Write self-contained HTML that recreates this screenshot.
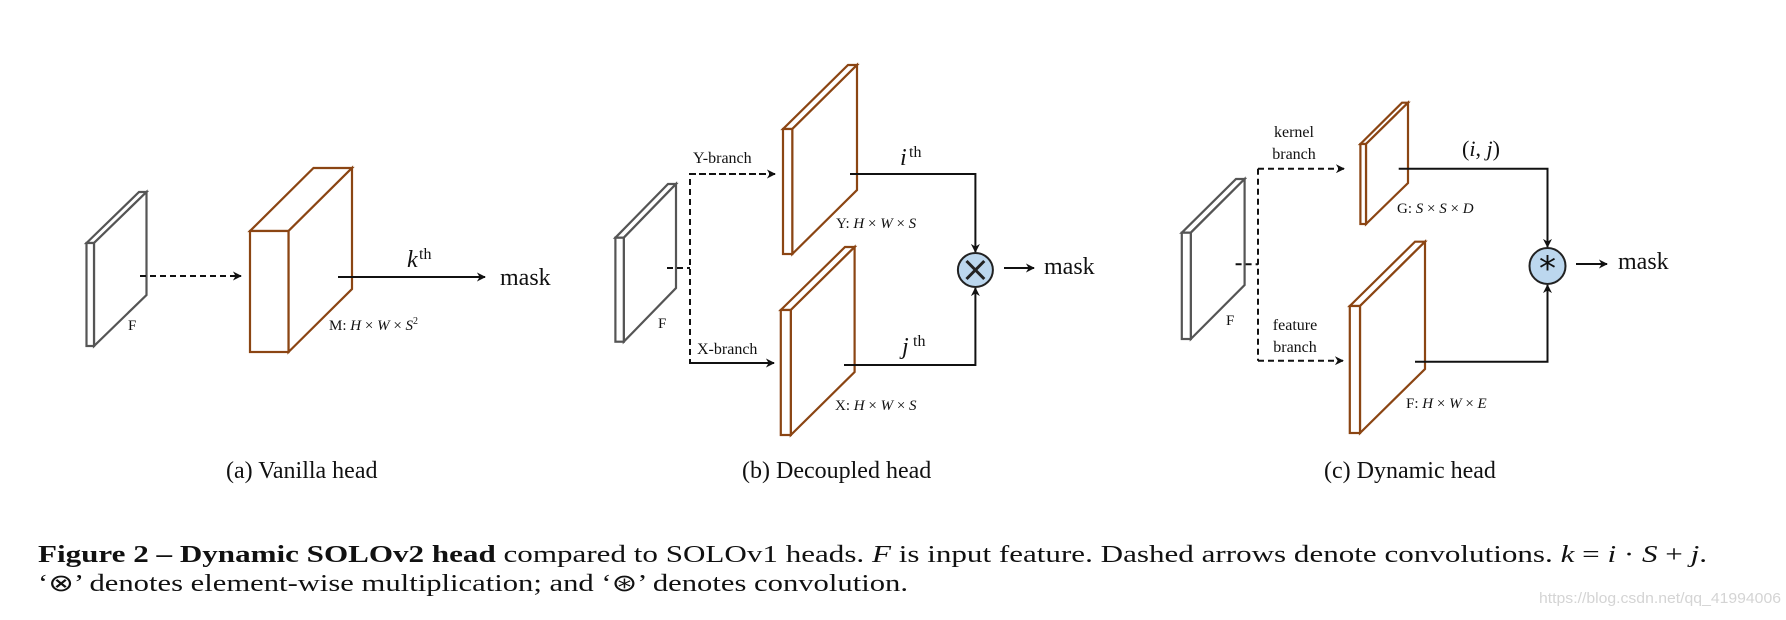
<!DOCTYPE html>
<html><head><meta charset="utf-8"><style>
html,body{margin:0;padding:0;background:#fff;}
svg{display:block;}
text{font-family:"Liberation Serif",serif;fill:#111;}
.it{font-style:italic;}
</style></head><body>
<svg width="1786" height="620" viewBox="0 0 1786 620" xmlns="http://www.w3.org/2000/svg">
<defs>
<marker id="ah" viewBox="0 0 10 10" refX="9" refY="5" markerWidth="9" markerHeight="9" markerUnits="userSpaceOnUse" orient="auto"><path d="M0,0 L10,5 L0,10 L3,5 z" fill="#111"/></marker>
</defs>
<g fill="#fff" stroke-linejoin="miter">
<!-- Panel a -->
<g stroke="#555" stroke-width="2.2">
<path d="M86.5,243 L139,192 L146.5,192 L94,243 z"/>
<path d="M94,243 L146.5,192 L146.5,295 L94,346 z"/>
<rect x="86.5" y="243" width="7.5" height="103"/>
</g>
<g stroke="#8B4513" stroke-width="2.2">
<path d="M250,231 L313.5,168 L352,168 L288.5,231 z"/>
<path d="M288.5,231 L352,168 L352,289 L288.5,352 z"/>
<rect x="250" y="231" width="38.5" height="121"/>
</g>
<!-- Panel b -->
<g stroke="#555" stroke-width="2.2">
<path d="M615.4,237.7 L668,184 L676,184 L623.8,237.7 z"/>
<path d="M623.8,237.7 L676,184 L676,288 L623.8,341.7 z"/>
<rect x="615.4" y="237.7" width="8.4" height="104"/>
</g>
<g stroke="#8B4513" stroke-width="2.2">
<path d="M783,129 L848,65 L857,65 L792.3,129 z"/>
<path d="M792.3,129 L857,65 L857,190 L792.3,254 z"/>
<rect x="783" y="129" width="9.3" height="125"/>
<path d="M780.8,310 L845,247 L854.6,247 L790.8,310 z"/>
<path d="M790.8,310 L854.6,247 L854.6,372 L790.8,435 z"/>
<rect x="780.8" y="310" width="10" height="125"/>
</g>
<!-- Panel c -->
<g stroke="#555" stroke-width="2.2">
<path d="M1181.8,232.7 L1236,179 L1244.6,179 L1190.8,232.7 z"/>
<path d="M1190.8,232.7 L1244.6,179 L1244.6,285 L1190.8,339 z"/>
<rect x="1181.8" y="232.7" width="9" height="106.3"/>
</g>
<g stroke="#8B4513" stroke-width="2.2">
<path d="M1360.4,144 L1402,102.7 L1408,102.7 L1366,144 z"/>
<path d="M1366,144 L1408,102.7 L1408,183 L1366,224 z"/>
<rect x="1360.4" y="144" width="5.6" height="80"/>
<path d="M1349.8,306 L1415,241.7 L1425,241.7 L1360,306 z"/>
<path d="M1360,306 L1425,241.7 L1425,369 L1360,433 z"/>
<rect x="1349.8" y="306" width="10.2" height="127"/>
</g>
</g>

<!-- connectors -->
<g fill="none" stroke="#111" stroke-width="2">
<line x1="140" y1="276" x2="241" y2="276" stroke-dasharray="6,4" marker-end="url(#ah)"/>
<line x1="338" y1="277" x2="485" y2="277" marker-end="url(#ah)"/>

<line x1="667" y1="268" x2="690" y2="268" stroke-dasharray="6,4"/>
<path d="M775,174 L690,174 L690,363 L774,363" stroke-dasharray="6,4"/>
<line x1="690" y1="174" x2="775" y2="174" stroke-dasharray="6,4" marker-end="url(#ah)"/>
<line x1="690" y1="363" x2="774" y2="363" stroke-dasharray="6,4" marker-end="url(#ah)"/>
<path d="M850,174 L975.4,174 L975.4,252" marker-end="url(#ah)"/>
<path d="M844,365 L975.4,365 L975.4,288" marker-end="url(#ah)"/>
<line x1="1004" y1="268" x2="1034" y2="268" marker-end="url(#ah)"/>

<line x1="1235.6" y1="264.3" x2="1258" y2="264.3" stroke-dasharray="6,4"/>
<path d="M1258,168.7 L1258,360.7" stroke-dasharray="6,4"/>
<line x1="1258" y1="168.7" x2="1344" y2="168.7" stroke-dasharray="6,4" marker-end="url(#ah)"/>
<line x1="1258" y1="360.7" x2="1343" y2="360.7" stroke-dasharray="6,4" marker-end="url(#ah)"/>
<path d="M1398.7,168.7 L1547.5,168.7 L1547.5,247" marker-end="url(#ah)"/>
<path d="M1415,361.7 L1547.5,361.7 L1547.5,285" marker-end="url(#ah)"/>
<line x1="1576" y1="264" x2="1607" y2="264" marker-end="url(#ah)"/>
</g>

<!-- operators -->
<ellipse cx="975.4" cy="270" rx="17.5" ry="17" fill="#bcd7ee" stroke="#222" stroke-width="2"/>
<path d="M966.5,261 L984.3,279 M984.3,261 L966.5,279" stroke="#222" stroke-width="3"/>
<ellipse cx="1547.5" cy="266" rx="18" ry="18" fill="#bcd7ee" stroke="#222" stroke-width="2"/>
<text x="1547.5" y="280" font-size="34" text-anchor="middle" font-family="DejaVu Sans" style="font-family:'DejaVu Sans',sans-serif">*</text>

<!-- labels panel a -->
<text x="128" y="330" font-size="15">F</text>
<text x="329" y="330" font-size="15">M: <tspan class="it">H</tspan> × <tspan class="it">W</tspan> × <tspan class="it">S</tspan><tspan font-size="10" dy="-6">2</tspan></text>
<text x="407" y="267" font-size="24" class="it">k</text><text x="419" y="259" font-size="16">th</text>
<text x="500" y="285" font-size="24">mask</text>
<text x="226" y="478" font-size="24">(a)  Vanilla head</text>

<!-- labels panel b -->
<text x="658" y="328" font-size="15">F</text>
<text x="693" y="163" font-size="16">Y-branch</text>
<text x="697" y="354" font-size="16">X-branch</text>
<text x="900" y="165" font-size="24" class="it">i</text><text x="909" y="157" font-size="16">th</text>
<text x="902" y="354" font-size="24" class="it">j</text><text x="913" y="346" font-size="16">th</text>
<text x="836" y="228" font-size="15">Y: <tspan class="it">H</tspan> × <tspan class="it">W</tspan> × <tspan class="it">S</tspan></text>
<text x="835" y="410" font-size="15">X: <tspan class="it">H</tspan> × <tspan class="it">W</tspan> × <tspan class="it">S</tspan></text>
<text x="1044" y="274" font-size="24">mask</text>
<text x="742" y="478" font-size="24">(b)  Decoupled head</text>

<!-- labels panel c -->
<text x="1226" y="325" font-size="15">F</text>
<text x="1294" y="137" font-size="16" text-anchor="middle">kernel</text>
<text x="1294" y="159" font-size="16" text-anchor="middle">branch</text>
<text x="1295" y="330" font-size="16" text-anchor="middle">feature</text>
<text x="1295" y="352" font-size="16" text-anchor="middle">branch</text>
<text x="1462" y="156" font-size="22">(<tspan class="it">i</tspan>, <tspan class="it">j</tspan>)</text>
<text x="1397" y="213" font-size="15">G: <tspan class="it">S</tspan> × <tspan class="it">S</tspan> × <tspan class="it">D</tspan></text>
<text x="1406" y="408" font-size="15">F: <tspan class="it">H</tspan> × <tspan class="it">W</tspan> × <tspan class="it">E</tspan></text>
<text x="1618" y="269" font-size="24">mask</text>
<text x="1324" y="478" font-size="24">(c)  Dynamic head</text>

<!-- caption -->
<text x="38" y="562" font-size="24" textLength="1669" lengthAdjust="spacingAndGlyphs"><tspan font-weight="bold">Figure 2 – Dynamic SOLOv2 head</tspan> compared to SOLOv1 heads. <tspan class="it">F</tspan> is input feature. Dashed arrows denote convolutions. <tspan class="it">k</tspan> = <tspan class="it">i</tspan> · <tspan class="it">S</tspan> + <tspan class="it">j</tspan>.</text>
<text x="38" y="591" font-size="24" textLength="870" lengthAdjust="spacingAndGlyphs">‘⊗’ denotes element-wise multiplication; and ‘⊛’ denotes convolution.</text>
<text x="1539" y="603" font-size="15" fill="#d6d6d6" style="fill:#d4d4d4;font-family:'Liberation Sans',sans-serif" textLength="242" lengthAdjust="spacingAndGlyphs">https://blog.csdn.net/qq_41994006</text>
</svg>
</body></html>
